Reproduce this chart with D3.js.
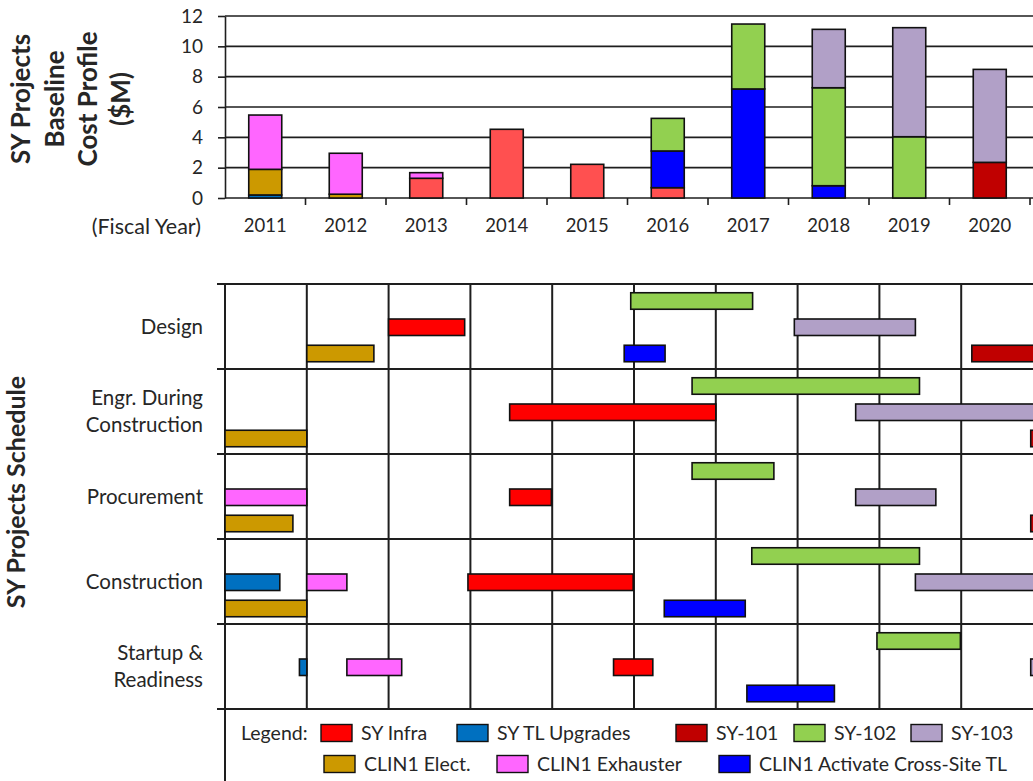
<!DOCTYPE html>
<html>
<head>
<meta charset="utf-8">
<script src="https://cdn.jsdelivr.net/npm/d3@7/dist/d3.min.js"></script>
<style>
  html, body { margin: 0; padding: 0; background: #fff; }
  svg { display: block; font-family: Lato, "Open Sans", sans-serif; }
</style>
</head>
<body>
<svg id="chart" width="1033" height="781"></svg>
<script>
// ---- Cost profile ($M) by fiscal year ----
const years = [2011, 2012, 2013, 2014, 2015, 2016, 2017, 2018, 2019, 2020];
const costTicks = [0, 2, 4, 6, 8, 10, 12];
const costInfra     = [0,    0,    1.30, 4.53, 2.22, 0.68, 0,    0,    0,    0];
const costTL        = [0.20, 0,    0,    0,    0,    0,    0,    0,    0,    0];
const costSY101     = [0,    0,    0,    0,    0,    0,    0,    0,    0,    2.35];
const costElect     = [1.69, 0.25, 0,    0,    0,    0,    0,    0,    0,    0];
const costExhauster = [3.58, 2.70, 0.37, 0,    0,    0,    0,    0,    0,    0];
const costActivate  = [0,    0,    0,    0,    0,    2.42, 7.19, 0.81, 0,    0];
const costSY102     = [0,    0,    0,    0,    0,    2.15, 4.28, 6.46, 4.04, 0];
const costSY103     = [0,    0,    0,    0,    0,    0,    0,    3.85, 7.19, 6.13];

// ---- Series ----
const seriesKeys  = ["infra", "tl", "sy101", "elect", "exhauster", "activate", "sy102", "sy103"];
const seriesNames = ["SY Infra", "SY TL Upgrades", "SY-101", "CLIN1 Elect.", "CLIN1 Exhauster",
                     "CLIN1 Activate Cross-Site TL", "SY-102", "SY-103"];
const seriesCosts = [costInfra, costTL, costSY101, costElect, costExhauster, costActivate, costSY102, costSY103];

// ---- Schedule ----
const phases = ["Design", "Engr. During Construction", "Procurement", "Construction", "Startup & Readiness"];
const phaseLabelLines = [["Design"], ["Engr. During", "Construction"], ["Procurement"], ["Construction"], ["Startup &", "Readiness"]];
const scheduleYears = [2011, 2012, 2013, 2014, 2015, 2016, 2017, 2018, 2019, 2020, 2021];
// [series, phase, start FY, end FY]
const tasks = [
  ["elect",     "Design", 2012.00, 2012.82],
  ["infra",     "Design", 2013.00, 2013.93],
  ["sy102",     "Design", 2015.96, 2017.45],
  ["activate",  "Design", 2015.88, 2016.38],
  ["sy103",     "Design", 2017.96, 2019.44],
  ["sy101",     "Design", 2020.13, 2021.50],
  ["elect",     "Engr. During Construction", 2011.00, 2012.00],
  ["infra",     "Engr. During Construction", 2014.48, 2017.00],
  ["sy102",     "Engr. During Construction", 2016.71, 2019.49],
  ["sy103",     "Engr. During Construction", 2018.71, 2021.50],
  ["sy101",     "Engr. During Construction", 2020.85, 2021.50],
  ["exhauster", "Procurement", 2011.00, 2012.00],
  ["elect",     "Procurement", 2011.00, 2011.83],
  ["infra",     "Procurement", 2014.48, 2014.99],
  ["sy102",     "Procurement", 2016.71, 2017.71],
  ["sy103",     "Procurement", 2018.71, 2019.69],
  ["sy101",     "Procurement", 2020.85, 2021.30],
  ["tl",        "Construction", 2011.00, 2011.67],
  ["exhauster", "Construction", 2012.00, 2012.49],
  ["infra",     "Construction", 2013.97, 2015.99],
  ["elect",     "Construction", 2011.00, 2012.00],
  ["sy102",     "Construction", 2017.44, 2019.49],
  ["sy103",     "Construction", 2019.44, 2021.50],
  ["activate",  "Construction", 2016.37, 2017.36],
  ["tl",        "Startup & Readiness", 2011.91, 2012.00],
  ["exhauster", "Startup & Readiness", 2012.49, 2013.16],
  ["infra",     "Startup & Readiness", 2015.75, 2016.23],
  ["sy102",     "Startup & Readiness", 2018.97, 2019.99],
  ["activate",  "Startup & Readiness", 2017.38, 2018.45],
  ["sy103",     "Startup & Readiness", 2020.85, 2021.50]
];

// ---- Styling ----
const fills = {
  infra: "#ff0000", tl: "#0070c0", sy101: "#c00000", sy102: "#92d050",
  sy103: "#b1a0c7", elect: "#cc9900", exhauster: "#ff66ff", activate: "#0000ff"
};
const costFills = Object.assign({}, fills, { infra: "#ff5050" });
// lane of each series inside a schedule row
const laneOf = {
  sy102: "upper",
  infra: "middle", tl: "middle", exhauster: "middle", sy103: "middle",
  elect: "lower", activate: "lower", sy101: "lower"
};
const legendRows = [
  ["infra", "tl", "sy101", "sy102", "sy103"],
  ["elect", "exhauster", "activate"]
];
const legendCols = [[321, 457, 676, 794, 911], [324, 497, 719]];
const ink = "#1e1e1e";
const textColor = "#262626";

const svg = d3.select("#chart");
svg.append("rect").attr("width", 1033).attr("height", 781).attr("fill", "#fff");

// ================= Cost profile =================
const yCost = d3.scaleLinear().domain([0, 12]).range([198, 16]);
const xYear = d3.scaleBand().domain(years).range([225, 1030]).paddingInner(0.59).paddingOuter(0.295);

const costG = svg.append("g");
// gridlines
costG.append("g").selectAll("line").data(costTicks).join("line")
  .attr("x1", 225).attr("x2", 1040)
  .attr("y1", d => yCost(d)).attr("y2", d => yCost(d))
  .attr("stroke", ink).attr("stroke-width", 1.6);

const yAxis = costG.append("g").attr("transform", "translate(225,0)")
  .call(d3.axisLeft(yCost).tickValues(costTicks).tickSizeInner(7).tickSizeOuter(0).tickPadding(15));
yAxis.select(".domain").attr("stroke", ink).attr("stroke-width", 1.6);
yAxis.selectAll(".tick line").attr("stroke", ink).attr("stroke-width", 1.6);
yAxis.selectAll("text").attr("font-size", 19).attr("fill", textColor).attr("font-family", "Lato, sans-serif");

const xAxis = costG.append("g").attr("transform", "translate(0,198)")
  .call(d3.axisBottom(xYear).tickSize(0).tickPadding(21));
xAxis.select(".domain").remove();
xAxis.selectAll("text").attr("font-size", 18.5).attr("fill", textColor).attr("font-family", "Lato, sans-serif");
// tick marks on the right edge of each year group
costG.append("g").selectAll("line").data(years).join("line")
  .attr("x1", d => xYear(d) - xYear.step() * xYear.paddingOuter() + xYear.step())
  .attr("x2", d => xYear(d) - xYear.step() * xYear.paddingOuter() + xYear.step())
  .attr("y1", 198).attr("y2", 205)
  .attr("stroke", ink).attr("stroke-width", 1.6);

// stacked bars
const stackRows = years.map((y, i) => {
  const row = { year: y };
  seriesKeys.forEach((k, j) => { row[k] = seriesCosts[j][i]; });
  return row;
});
const stacked = d3.stack().keys(seriesKeys)(stackRows);
costG.append("g").selectAll("g").data(stacked).join("g")
  .attr("fill", d => costFills[d.key])
  .selectAll("rect").data(d => d.filter(s => s[1] - s[0] > 0)).join("rect")
  .attr("x", d => xYear(d.data.year))
  .attr("width", xYear.bandwidth())
  .attr("y", d => yCost(d[1]))
  .attr("height", d => yCost(d[0]) - yCost(d[1]))
  .attr("stroke", "#111").attr("stroke-width", 1.6);

// titles
const costTitle = ["SY Projects", "Baseline", "Cost Profile", "($M)"];
const titleCols = d3.scalePoint().domain(costTitle).range([21, 121]);
svg.append("g").selectAll("text").data(costTitle).join("text")
  .attr("transform", d => `translate(${titleCols(d)},99) rotate(-90)`)
  .attr("text-anchor", "middle").attr("dy", "0.36em")
  .attr("font-size", 26).attr("font-weight", 700).attr("fill", textColor)
  .text(d => d);
svg.append("text").attr("x", 201).attr("y", 226).attr("dy", "0.35em")
  .attr("text-anchor", "end").attr("font-size", 21.5).attr("fill", textColor)
  .text("(Fiscal Year)");

// ================= Schedule =================
const xTime = d3.scaleLinear().domain([2011, 2021]).range([225, 1043]);
const yPhase = d3.scaleBand().domain(phases).range([284, 709]);
const yLane = d3.scalePoint().domain(["upper", "middle", "lower"]).range([17, 69.5]);
const barH = 16.5;

const gantt = svg.append("g");
// vertical year lines
gantt.append("g").selectAll("line").data(scheduleYears).join("line")
  .attr("x1", d => xTime(d)).attr("x2", d => xTime(d))
  .attr("y1", yPhase.range()[0]).attr("y2", d => d === 2011 ? 781 : yPhase.range()[1])
  .attr("stroke", ink).attr("stroke-width", 2);
// row separators
const rowEdges = phases.map(p => yPhase(p)).concat([yPhase.range()[1]]);
gantt.append("g").selectAll("line").data(rowEdges).join("line")
  .attr("x1", 217).attr("x2", 1040)
  .attr("y1", d => d).attr("y2", d => d)
  .attr("stroke", ink).attr("stroke-width", 2);

// task bars
gantt.append("g").selectAll("rect").data(tasks).join("rect")
  .attr("x", d => xTime(d[2]))
  .attr("width", d => xTime(d[3]) - xTime(d[2]))
  .attr("y", d => yPhase(d[1]) + yLane(laneOf[d[0]]) - barH / 2)
  .attr("height", barH)
  .attr("fill", d => fills[d[0]])
  .attr("stroke", "#111").attr("stroke-width", 1.6);

// phase labels
const lbl = gantt.append("g").selectAll("text").data(phases).join("text")
  .attr("text-anchor", "end").attr("font-size", 20.5).attr("fill", textColor);
lbl.each(function (p, i) {
  const lines = phaseLabelLines[i];
  const cy = yPhase(p) + yPhase.bandwidth() / 2;
  const lh = 27;
  d3.select(this).selectAll("tspan").data(lines).join("tspan")
    .attr("x", 203)
    .attr("y", (d, j) => cy + (j - (lines.length - 1) / 2) * lh)
    .attr("dy", "0.35em")
    .text(d => d);
});

svg.append("text")
  .attr("transform", "translate(16,492) rotate(-90)")
  .attr("text-anchor", "middle").attr("dy", "0.36em")
  .attr("font-size", 25).attr("font-weight", 700).attr("fill", textColor)
  .text("SY Projects Schedule");

// ================= Legend =================
const legend = svg.append("g");
const legendRowY = [733, 764];
legend.append("text").attr("x", 241).attr("y", legendRowY[0]).attr("dy", "0.35em")
  .attr("font-size", 19.5).attr("fill", textColor).text("Legend:");
legendRows.forEach((keys, r) => {
  keys.forEach((k, c) => {
    const x = legendCols[r][c];
    const y = legendRowY[r];
    legend.append("rect").attr("x", x).attr("y", y - 8.5).attr("width", 31).attr("height", 17)
      .attr("fill", fills[k]).attr("stroke", "#111").attr("stroke-width", 1.4);
    legend.append("text").attr("x", x + 40).attr("y", y).attr("dy", "0.35em")
      .attr("font-size", 19.5).attr("fill", textColor)
      .text(seriesNames[seriesKeys.indexOf(k)]);
  });
});
</script>
</body>
</html>
